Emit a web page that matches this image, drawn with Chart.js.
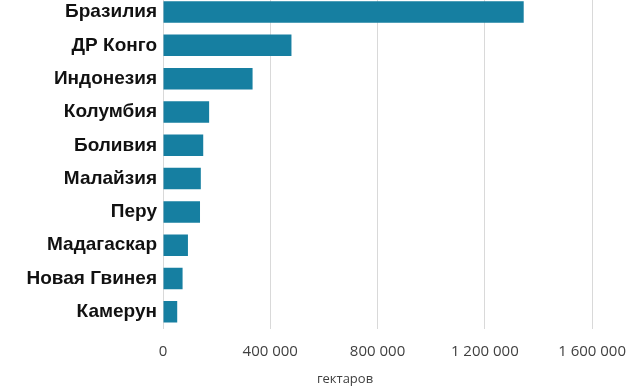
<!DOCTYPE html>
<html>
<head>
<meta charset="utf-8">
<script src="https://cdn.jsdelivr.net/npm/chart.js@4"></script>
<style>
  html, body { margin: 0; padding: 0; background: #fff; overflow: hidden; }
  #wrap { position: absolute; left: 0; top: -22px; width: 640px; height: 413px; }
</style>
</head>
<body>
<div id="wrap"><canvas id="c"></canvas></div>
<script>
const categories = ["Бразилия", "ДР Конго", "Индонезия", "Колумбия", "Боливия", "Малайзия", "Перу", "Мадагаскар", "Новая Гвинея", "Камерун"];
const hectares = [1345000, 479000, 334000, 172000, 150000, 141000, 138000, 93000, 73000, 53000];
const xTicks = [0, 400000, 800000, 1200000, 1600000];
const xTickLabels = ["0", "400 000", "800 000", "1 200 000", "1 600 000"];
const axisTitle = "гектаров";

const titlePlugin = {
  id: 'axisTitle',
  afterDraw(chart) {
    const ctx = chart.ctx;
    const a = chart.chartArea;
    ctx.save();
    ctx.font = '13px "Open Sans", sans-serif';
    ctx.fillStyle = '#404040';
    ctx.textAlign = 'center';
    ctx.textBaseline = 'middle';
    ctx.fillText(axisTitle, a.left + 182, a.bottom + 51);
    ctx.restore();
  }
};

new Chart(document.getElementById('c'), {
  type: 'bar',
  data: {
    labels: categories,
    datasets: [{
      data: hectares,
      backgroundColor: '#167FA1',
      borderWidth: 0,
      barPercentage: 0.645,
      categoryPercentage: 1.0
    }]
  },
  options: {
    indexAxis: 'y',
    responsive: true,
    maintainAspectRatio: false,
    animation: false,
    layout: { padding: { left: 0, right: 47, top: 0, bottom: 0 } },
    plugins: { legend: { display: false }, tooltip: { enabled: false } },
    scales: {
      x: {
        min: 0,
        max: 1600000,
        afterBuildTicks(scale) { scale.ticks = xTicks.map(v => ({ value: v })); },
        afterFit(scale) { scale.height = 62.5; },
        grid: { color: '#D9D9D9', lineWidth: 1, drawTicks: false },
        border: { display: false },
        ticks: {
          padding: 14,
          color: '#404040',
          font: { family: '"Open Sans", sans-serif', size: 15 },
          callback: (v, i) => xTickLabels[i]
        }
      },
      y: {
        afterFit(scale) { scale.width = 163; },
        grid: { display: false, drawTicks: false },
        border: { display: false },
        ticks: {
          padding: 6,
          color: '#111111',
          font: { family: '"Liberation Sans", Arial, sans-serif', size: 19, weight: 'bold' }
        }
      }
    }
  },
  plugins: [titlePlugin]
});
</script>
</body>
</html>
